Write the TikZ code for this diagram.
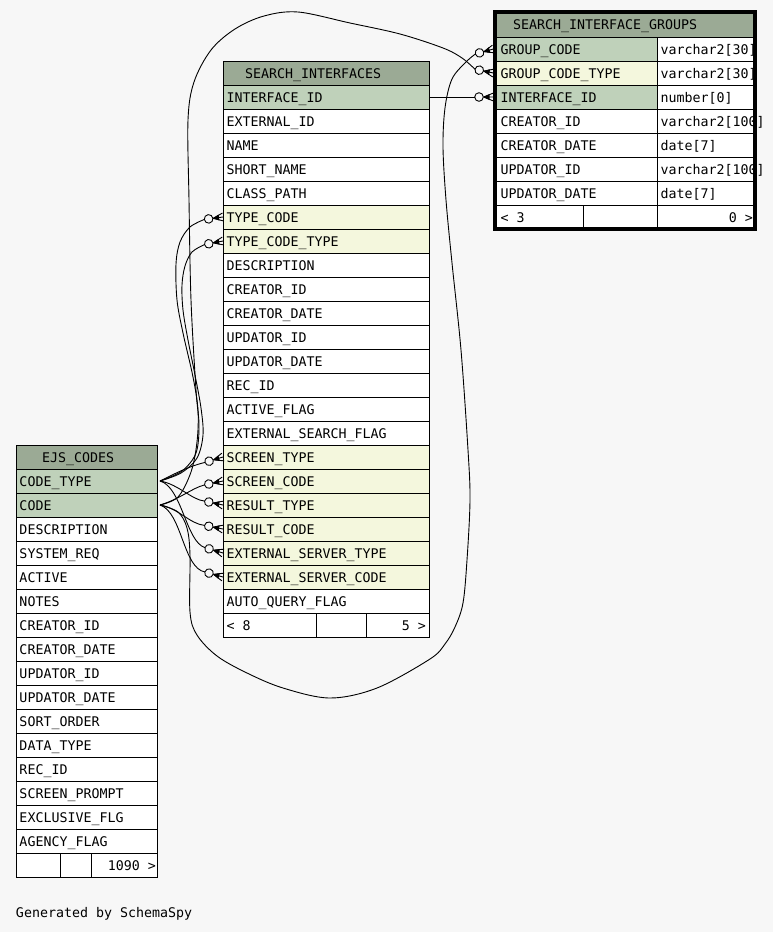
\documentclass[tikz,border=0pt]{standalone}
\usepackage{fontspec}
\setmonofont{DejaVu Sans Mono}
\definecolor{bg}{HTML}{F7F7F7}
\definecolor{hdr}{HTML}{9BAA95}
\definecolor{pk}{HTML}{BFD1BA}
\definecolor{fk}{HTML}{F4F7DD}
\newcommand\crowodot[3]{%
  \begin{scope}[shift={#1}, rotate=#2]
    \draw[line width=0.9pt] (-10,0) -- (0,-4) (-10,0) -- (0,0) (-10,0) -- (0,4);
    \fill (-10,0) -- (-4,-3) -- (-4,3) -- cycle;
    \draw[line width=0.9pt, fill=bg] (-14.5,0) circle[radius=4.3pt];
    \coordinate (#3) at (-18.8,0);
  \end{scope}}
\begin{document}
\begin{tikzpicture}[x=1pt,y=-1pt,
  cell/.style={draw=black, line width=1pt, minimum height=24pt, inner sep=0pt, outer sep=0pt, anchor=north west},
  txt/.style={font=\ttfamily\fontsize{13.3}{15}\selectfont, inner sep=0pt, outer sep=0pt, anchor=base west},
  txtr/.style={txt, anchor=base east},
  conn/.style={draw=black, line width=0.9pt}]
\useasboundingbox[fill=bg] (0,0) rectangle (773,932);

% ---------------- SEARCH_INTERFACES ----------------
\node[cell, minimum width=206pt, fill=hdr] (si-h) at (223,61) {};
\node[txt] (si-ht) at (245,78) {SEARCH\_INTERFACES};
\foreach \t/\c [count=\i] in {INTERFACE\_ID/pk, EXTERNAL\_ID/white, NAME/white, SHORT\_NAME/white, CLASS\_PATH/white, TYPE\_CODE/fk, TYPE\_CODE\_TYPE/fk, DESCRIPTION/white, CREATOR\_ID/white, CREATOR\_DATE/white, UPDATOR\_ID/white, UPDATOR\_DATE/white, REC\_ID/white, ACTIVE\_FLAG/white, EXTERNAL\_SEARCH\_FLAG/white, SCREEN\_TYPE/fk, SCREEN\_CODE/fk, RESULT\_TYPE/fk, RESULT\_CODE/fk, EXTERNAL\_SERVER\_TYPE/fk, EXTERNAL\_SERVER\_CODE/fk, AUTO\_QUERY\_FLAG/white}{
  \node[cell, minimum width=206pt, fill=\c] (si-\i) at (223,{85+24*(\i-1)}) {};
  \node[txt] (si-t\i) at (226.5,{85+24*(\i-1)+17}) {\t};
}
\node[cell, minimum width=206pt, fill=white] (si-f) at (223,613) {};
\draw[line width=1pt] (316,613) -- (316,637) (366,613) -- (366,637);
\node[txt] (si-fl) at (226.5,630) {< 8};
\node[txtr] (si-fr) at (426,630) {5 >};

% ---------------- EJS_CODES ----------------
\node[cell, minimum width=141pt, fill=hdr] (ejs-h) at (16,445) {};
\node[txt] (ejs-ht) at (42,462) {EJS\_CODES};
\foreach \t/\c [count=\i] in {CODE\_TYPE/pk, CODE/pk, DESCRIPTION/white, SYSTEM\_REQ/white, ACTIVE/white, NOTES/white, CREATOR\_ID/white, CREATOR\_DATE/white, UPDATOR\_ID/white, UPDATOR\_DATE/white, SORT\_ORDER/white, DATA\_TYPE/white, REC\_ID/white, SCREEN\_PROMPT/white, EXCLUSIVE\_FLG/white, AGENCY\_FLAG/white}{
  \node[cell, minimum width=141pt, fill=\c] (ejs-\i) at (16,{469+24*(\i-1)}) {};
  \node[txt] (ejs-t\i) at (19.5,{469+24*(\i-1)+17}) {\t};
}
\node[cell, minimum width=141pt, fill=white] (ejs-f) at (16,853) {};
\draw[line width=1pt] (60,853) -- (60,877) (91,853) -- (91,877);
\node[txtr] (ejs-fr) at (156,870) {1090 >};

% ---------------- SEARCH_INTERFACE_GROUPS ----------------
\node[cell, minimum width=260pt, minimum height=25pt, fill=hdr] (sig-h) at (495,12) {};
\node[txt] (sig-ht) at (513,29.5) {SEARCH\_INTERFACE\_GROUPS};
\foreach \t/\ty/\c [count=\i] in {GROUP\_CODE/{varchar2[30]}/pk, GROUP\_CODE\_TYPE/{varchar2[30]}/fk, INTERFACE\_ID/{number[0]}/pk, CREATOR\_ID/{varchar2[100]}/white, CREATOR\_DATE/{date[7]}/white, UPDATOR\_ID/{varchar2[100]}/white, UPDATOR\_DATE/{date[7]}/white}{
  \node[cell, minimum width=162pt, fill=\c] (sig-\i) at (495,{37+24*(\i-1)}) {};
  \node[cell, minimum width=98pt, fill=white] (sig-y\i) at (657,{37+24*(\i-1)}) {};
  \node[txt] (sig-t\i) at (500.5,{37+24*(\i-1)+17}) {\t};
  \node[txt] (sig-ty\i) at (660.5,{37+24*(\i-1)+17}) {\ty};
}
\node[cell, minimum width=260pt, fill=white] (sig-f) at (495,205) {};
\draw[line width=1pt] (583,205) -- (583,229) (657,205) -- (657,229);
\node[txt] (sig-fl) at (500.5,222) {< 3};
\node[txtr] (sig-fr) at (753,222) {0 >};

% ---------------- markers ----------------
\crowodot{(si-6.west)}{7.5}{mTC}
\crowodot{(si-7.west)}{11}{mTCT}
\crowodot{(si-16.west)}{16.7}{mST}
\crowodot{(si-17.west)}{12}{mSC}
\crowodot{(si-18.west)}{-12}{mRT}
\crowodot{(si-19.west)}{-11}{mRC}
\crowodot{(si-20.west)}{-16.7}{mEST}
\crowodot{(si-21.west)}{-15.5}{mESC}
\crowodot{([xshift=-1.5pt]sig-1.west)}{15.5}{mGC}
\crowodot{([xshift=-1.5pt]sig-2.west)}{-11.3}{mGCT}
\crowodot{([xshift=-1.5pt]sig-3.west)}{0}{mIID}

\coordinate (vCT) at ([xshift=3pt]ejs-1.east);
\coordinate (vC) at ([xshift=3pt]ejs-2.east);

% ---------------- connectors ----------------
\draw[conn] (si-1.east) -- (mIID);
\draw[conn] plot[smooth, tension=0.55] coordinates {(vCT) (182,471) (196,453) (199,425) (196,390) (191,300) (189,200) (188,120) (194,82) (211,50) (235,29) (264,16) (298,12) (350,23) (400,34) (443,48) (462,58) (mGCT)};
\draw[conn] plot[smooth, tension=0.55] coordinates {(vC) (178,512) (187,528) (190,555) (190,612) (197,635) (217,656) (247,673) (283,688) (330,698) (377,688) (430,659) (445,644) (455,627) (463,603) (467,560) (470,500) (468,450) (461,350) (452,263) (446,200) (443,147) (445,108) (452,79) (466,62) (mGC)};
\draw[conn] plot[smooth, tension=0.55] coordinates {(mTC) (190,227) (180,242) (176,264) (177,300) (183,333) (193,377) (198,410) (197,442) (191,472) (178,497) (vC)};
\draw[conn] plot[smooth, tension=0.55] coordinates {(mTCT) (192,252) (185,266) (182,285) (183,310) (188,340) (195,375) (201,408) (203,435) (197,458) (181,473) (vCT)};
\draw[conn] (vCT) .. controls (178,472) and (190,466) .. (mST);
\draw[conn] (vC) .. controls (180,499) and (192,488) .. (mSC);
\draw[conn] (vCT) .. controls (178,484) and (192,500) .. (mRT);
\draw[conn] (vC) .. controls (178,508) and (190,524) .. (mRC);
\draw[conn] (vCT) .. controls (182,487) and (186,542) .. (mEST);
\draw[conn] (vC) .. controls (182,512) and (183,568) .. (mESC);

% thick border of the selected table
\draw[line width=3.5pt] (495,12) rectangle (755,229);

\node[txt] (gen) at (16,917) {Generated by SchemaSpy};
\end{tikzpicture}
\end{document}
